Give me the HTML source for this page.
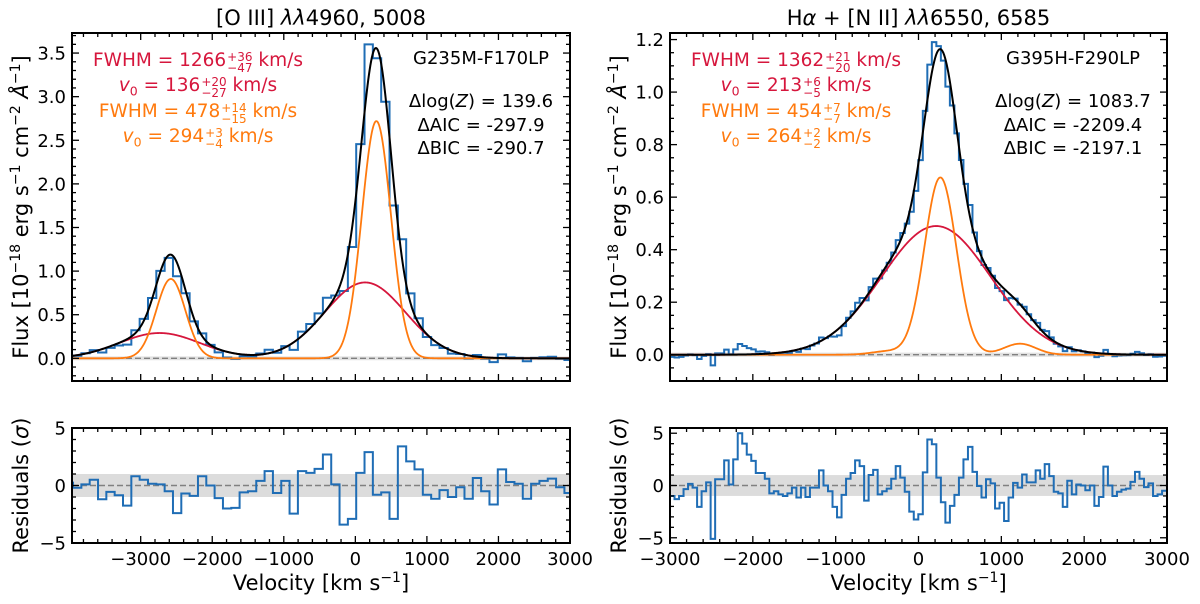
<!DOCTYPE html>
<html><head><meta charset="utf-8">
<style>
html,body{margin:0;padding:0;background:#fff;}
#wrap{position:relative;width:1200px;height:604px;overflow:hidden;font-family:"DejaVu Sans","Liberation Sans",sans-serif;}
svg{position:absolute;left:0;top:0;}
.ann{position:absolute;white-space:nowrap;transform:translateX(-50%);font-size:18.5px;line-height:20px;font-family:"DejaVu Sans","Liberation Sans",sans-serif;}
.ss{display:inline-block;vertical-align:-6px;font-size:12px;line-height:11px;text-align:left;margin-left:1px;}
.ss span{display:block;}
.red{color:#d6163c;} .org{color:#ff7a0e;} .blk{color:#000;}
</style></head>
<body>
<div id="wrap">
<svg id="fig" width="1200" height="604" viewBox="0 0 1200 604" xmlns="http://www.w3.org/2000/svg"></svg>

<div class="ann red" style="left:198px;top:51px">FWHM = 1266<span class="ss"><span>+36</span><span>−47</span></span> km/s</div>
<div class="ann red" style="left:198px;top:76px"><i>v</i><sub style="font-size:12.5px">0</sub> = 136<span class="ss"><span>+20</span><span>−27</span></span> km/s</div>
<div class="ann org" style="left:198px;top:102px">FWHM = 478<span class="ss"><span>+14</span><span>−15</span></span> km/s</div>
<div class="ann org" style="left:198px;top:127px"><i>v</i><sub style="font-size:12.5px">0</sub> = 294<span class="ss"><span>+3</span><span>−4</span></span> km/s</div>
<div class="ann blk" style="left:481px;top:49px;font-size:18px">G235M-F170LP</div>
<div class="ann blk" style="left:481px;top:92px;font-size:18px">Δlog(<i>Z</i>) = 139.6</div>
<div class="ann blk" style="left:481px;top:116px;font-size:18px">ΔAIC = -297.9</div>
<div class="ann blk" style="left:481px;top:139px;font-size:18px">ΔBIC = -290.7</div>

<div class="ann red" style="left:796px;top:51px">FWHM = 1362<span class="ss"><span>+21</span><span>−20</span></span> km/s</div>
<div class="ann red" style="left:796px;top:76px"><i>v</i><sub style="font-size:12.5px">0</sub> = 213<span class="ss"><span>+6</span><span>−5</span></span> km/s</div>
<div class="ann org" style="left:796px;top:102px">FWHM = 454<span class="ss"><span>+7</span><span>−7</span></span> km/s</div>
<div class="ann org" style="left:796px;top:127px"><i>v</i><sub style="font-size:12.5px">0</sub> = 264<span class="ss"><span>+2</span><span>−2</span></span> km/s</div>
<div class="ann blk" style="left:1073px;top:49px;font-size:18px">G395H-F290LP</div>
<div class="ann blk" style="left:1073px;top:92px;font-size:18px">Δlog(<i>Z</i>) = 1083.7</div>
<div class="ann blk" style="left:1073px;top:116px;font-size:18px">ΔAIC = -2209.4</div>
<div class="ann blk" style="left:1073px;top:139px;font-size:18px">ΔBIC = -2197.1</div>
</div>

<script>
// ---------- data: left panel [O III] ----------
const leftBroadAmp = [0.29, 0.87];
const leftBroadCen = [-2737, 136];
const leftBroadFwhm = [1330, 1330];
const leftNarrowAmp = [0.91, 2.72];
const leftNarrowCen = [-2579, 294];
const leftNarrowFwhm = [478, 478];
const leftBinStart = -4062;
const leftBinWidth = 116.4;
const leftResid = [0.25,-0.2,0.1,0.5,-1.2,-0.55,-0.85,-1.75,0.8,0.5,
 0.15,0.1,-0.5,-2.4,-0.7,-0.9,0.8,0,-1.1,-2.0,
 -1.95,-0.6,-0.5,0.4,1.25,-0.65,0.4,-2.45,1.25,1.1,
 1.45,2.7,0.1,-3.4,-2.9,1.1,2.9,-0.8,-0.6,-2.9,
 3.4,2.1,1.4,-0.8,-1.15,-0.4,-1.0,-0.15,-1.15,0.65,
 -0.5,-1.65,1.4,0.3,0.15,-1.15,0.15,0.4,0.6,-0.15,-0.65,-0.3];
const leftYTicks = [0.0,0.5,1.0,1.5,2.0,2.5,3.0,3.5];
const leftYTickLabels = ["0.0","0.5","1.0","1.5","2.0","2.5","3.0","3.5"];

// ---------- data: right panel Halpha + [N II] ----------
const rightBroadAmp = [0.49];
const rightBroadCen = [213];
const rightBroadFwhm = [1550];
const rightNarrowAmp = [0.013, 0.675, 0.042];
const rightNarrowCen = [-376, 264, 1224];
const rightNarrowFwhm = [454, 454, 454];
const rightBinStart = -3000;
const rightBinWidth = 54.5;
const rightResid = [-1.0,-1.3,-1.0,-0.35,0.15,-0.2,-2.05,-0.55,0.3,-5.1,
 0.6,0.6,2.4,0.1,2.5,5.0,4.0,2.95,2.35,1.2,
 1.2,0.65,-0.75,-0.55,-0.85,-1.0,-0.75,-0.2,-1.15,-0.2,
 -1.1,-0.2,-0.2,1.45,0,-0.55,-2.05,-3.05,-0.9,0.65,
 1.2,2.4,1.85,-1.45,1.0,1.5,-0.85,-0.55,-0.3,0.65,
 1.85,0.75,-0.6,-2.5,-3.25,-2.75,1.25,4.4,3.95,0.75,
 -1.6,-3.55,-1.95,-0.9,0.75,2.5,3.7,1.3,-0.05,-1.15,
 0.6,0.2,-2.2,-1.65,-3.4,-1.15,0.25,-0.2,1.05,0.3,
 0.3,1.45,0.65,2.05,0.9,-0.6,-0.75,-2.05,0.45,-0.85,
 0.1,0,-0.45,0,-1.95,-1.1,1.8,0,-1.0,-0.6,
 -0.4,-0.3,0.35,1.3,0.65,-0.15,0.2,-1.0,-0.85,-0.5];
const rightYTicks = [0.0,0.2,0.4,0.6,0.8,1.0,1.2];
const rightYTickLabels = ["0.0","0.2","0.4","0.6","0.8","1.0","1.2"];

const xTicks = [-3000,-2000,-1000,0,1000,2000,3000];
const xTickLabels = ["−3000","−2000","−1000","0","1000","2000","3000"];
const residTicks = [-5,0,5];
const residTickLabels = ["−5","0","5"];

// ---------- drawing ----------
const NS = "http://www.w3.org/2000/svg";
const svg = document.getElementById("fig");
const C_BLUE = "#1f6db5", C_RED = "#d6163c", C_ORG = "#ff7a0e";
const FONT = "DejaVu Sans, Liberation Sans, sans-serif";

function mk(tag, attrs, parent) {
  const e = document.createElementNS(NS, tag);
  for (const k in attrs) e.setAttribute(k, attrs[k]);
  (parent || svg).appendChild(e);
  return e;
}
function gauss(v, a, c, f) { return a * Math.exp(-4 * Math.LN2 * ((v - c) / f) ** 2); }
function sumG(v, amps, cens, fw) { let s = 0; for (let i = 0; i < amps.length; i++) s += gauss(v, amps[i], cens[i], fw[i]); return s; }

function panel(cfg) {
  const p = cfg.pre;
  const X = v => cfg.x0 + (v - cfg.xmin) / (cfg.xmax - cfg.xmin) * (cfg.x1 - cfg.x0);
  const Y = f => cfg.yb - (f - cfg.ymin) / (cfg.ymax - cfg.ymin) * (cfg.yb - cfg.yt);
  const RY = r => cfg.ryb - (r - cfg.rymin) / (cfg.rymax - cfg.rymin) * (cfg.ryb - cfg.ryt);

  const defs = mk("defs", {});
  const cp1 = mk("clipPath", {id: p + "clipMain"}, defs);
  mk("rect", {x: cfg.x0, y: cfg.yt, width: cfg.x1 - cfg.x0, height: cfg.yb - cfg.yt}, cp1);
  const cp2 = mk("clipPath", {id: p + "clipRes"}, defs);
  mk("rect", {x: cfg.x0, y: cfg.ryt, width: cfg.x1 - cfg.x0, height: cfg.ryb - cfg.ryt}, cp2);

  const gMain = mk("g", {"clip-path": "url(#" + p + "clipMain)"});
  
  
  const band = mk("rect", {x: cfg.x0, y: Y(cfg.noise), width: cfg.x1 - cfg.x0, height: Y(-cfg.noise) - Y(cfg.noise), fill: "#d9d9d9", opacity: 0.8}, gMain);
  
  
  const zl = mk("line", {x1: cfg.x0, x2: cfg.x1, y1: Y(0), y2: Y(0), stroke: "#808080", "stroke-width": 1.4, "stroke-dasharray": "6,3"}, gMain);
  
  

  const n = cfg.resid.length;
  let d = "";
  for (let i = 0; i < n; i++) {
    const lo = cfg.binStart + i * cfg.binWidth, hi = lo + cfg.binWidth, c = lo + cfg.binWidth / 2;
    const m = cfg.model(c);
    const f = m + cfg.resid[i] * (cfg.sig0 + cfg.sigk * m);
    d += (i === 0 ? "M" : "L") + X(lo).toFixed(2) + "," + Y(f).toFixed(2) + "L" + X(hi).toFixed(2) + "," + Y(f).toFixed(2);
  }
  const obs = mk("path", {d: d, fill: "none", stroke: C_BLUE, "stroke-width": 2}, gMain);
  
  

  const curve = (fn, color, name, w) => {
    let s = "";
    for (let v = cfg.xmin; v <= cfg.xmax; v += 10) s += (s ? "L" : "M") + X(v).toFixed(2) + "," + Y(fn(v)).toFixed(2);
    const e = mk("path", {d: s, fill: "none", stroke: color, "stroke-width": w}, gMain);
    
    
  };
  curve(cfg.broad, C_RED, p + "broad-component", 1.8);
  curve(cfg.narrow, C_ORG, p + "narrow-component", 1.8);
  curve(cfg.model, "#000", p + "total-model", 2);

  const gRes = mk("g", {"clip-path": "url(#" + p + "clipRes)"});
  
  
  const rb = mk("rect", {x: cfg.x0, y: RY(1), width: cfg.x1 - cfg.x0, height: RY(-1) - RY(1), fill: "#dcdcdc"}, gRes);
  
  
  const rz = mk("line", {x1: cfg.x0, x2: cfg.x1, y1: RY(0), y2: RY(0), stroke: "#808080", "stroke-width": 1.4, "stroke-dasharray": "6,3"}, gRes);
  
  
  let rd = "";
  for (let i = 0; i < n; i++) {
    const lo = cfg.binStart + i * cfg.binWidth, hi = lo + cfg.binWidth;
    rd += (i === 0 ? "M" : "L") + X(lo).toFixed(2) + "," + RY(cfg.resid[i]).toFixed(2) + "L" + X(hi).toFixed(2) + "," + RY(cfg.resid[i]).toFixed(2);
  }
  const rp = mk("path", {d: rd, fill: "none", stroke: C_BLUE, "stroke-width": 2}, gRes);
  
  

  [[cfg.yt, cfg.yb, "flux-axes-frame"], [cfg.ryt, cfg.ryb, "residual-axes-frame"]].forEach(a => {
    const fr = mk("rect", {x: cfg.x0, y: a[0], width: cfg.x1 - cfg.x0, height: a[1] - a[0], fill: "none", stroke: "#000", "stroke-width": 2});
    
    
  });

  const tg = mk("g", {stroke: "#000", "stroke-width": 1.3});
  
  
  const xt = (v, len, top, bot) => {
    const x = X(v);
    mk("line", {x1: x, x2: x, y1: top, y2: top + len}, tg);
    mk("line", {x1: x, x2: x, y1: bot, y2: bot - len}, tg);
  };
  for (let v = Math.ceil(cfg.xmin / 200) * 200; v <= cfg.xmax; v += 200) {
    const major = v % 1000 === 0, len = major ? 7 : 4;
    xt(v, len, cfg.yt, cfg.yb); xt(v, len, cfg.ryt, cfg.ryb);
  }
  const yt = (y, len) => {
    mk("line", {x1: cfg.x0, x2: cfg.x0 + len, y1: y, y2: y}, tg);
    mk("line", {x1: cfg.x1, x2: cfg.x1 - len, y1: y, y2: y}, tg);
  };
  for (let k = Math.ceil(cfg.ymin / cfg.yminor - 1e-6); k * cfg.yminor <= cfg.ymax; k++) {
    const v = k * cfg.yminor;
    const major = Math.abs(v / cfg.ymajor - Math.round(v / cfg.ymajor)) < 1e-6;
    yt(Y(v), major ? 7 : 4);
  }
  for (let r = Math.ceil(cfg.rymin); r <= cfg.rymax; r++) yt(RY(r), r % 5 === 0 ? 7 : 4);

  const lg = mk("g", {"font-size": 18, "font-family": FONT, fill: "#000"});
  
  
  cfg.yTicks.forEach((v, i) => {
    const t = mk("text", {x: cfg.x0 - 6, y: Y(v) + 6.5, "text-anchor": "end"}, lg);
    t.textContent = cfg.yTickLabels[i];
  });
  residTicks.forEach((v, i) => {
    const t = mk("text", {x: cfg.x0 - 6, y: RY(v) + 6.5, "text-anchor": "end"}, lg);
    t.textContent = residTickLabels[i];
  });
  xTicks.forEach((v, i) => {
    const t = mk("text", {x: X(v), y: cfg.ryb + 22, "text-anchor": "middle"}, lg);
    t.textContent = xTickLabels[i];
  });

  const cx = (cfg.x0 + cfg.x1) / 2;
  const title = mk("text", {x: cx, y: 25, "text-anchor": "middle", "font-size": 21, "font-family": FONT});
  title.innerHTML = cfg.title;
  
  
  const xl = mk("text", {x: cx, y: 590, "text-anchor": "middle", "font-size": 21, "font-family": FONT});
  xl.innerHTML = 'Velocity [km s<tspan font-size="14" dy="-8">−1</tspan><tspan dy="8">]</tspan>';
  
  
  const yl = mk("text", {x: 0, y: 0, "text-anchor": "middle", "font-size": 21, "font-family": FONT, transform: "translate(" + (cfg.x0 - 44) + "," + ((cfg.yt + cfg.yb) / 2) + ") rotate(-90)"});
  yl.innerHTML = 'Flux [10<tspan font-size="14" dy="-8">−18</tspan><tspan dy="8"> erg s</tspan><tspan font-size="14" dy="-8">−1</tspan><tspan dy="8"> cm</tspan><tspan font-size="14" dy="-8">−2</tspan><tspan dy="8"> </tspan><tspan font-style="italic">Å</tspan><tspan font-size="14" dy="-8">−1</tspan><tspan dy="8">]</tspan>';
  
  
  const rl = mk("text", {x: 0, y: 0, "text-anchor": "middle", "font-size": 21, "font-family": FONT, transform: "translate(" + (cfg.x0 - 44) + "," + ((cfg.ryt + cfg.ryb) / 2) + ") rotate(-90)"});
  rl.innerHTML = 'Residuals (<tspan font-style="italic">σ</tspan>)';
  
  
}

panel({
  pre: "left-", x0: 72, x1: 570, yt: 33, yb: 381, ryt: 428, ryb: 543,
  xmin: -3960, xmax: 3000, ymin: -0.26, ymax: 3.73, rymin: -5, rymax: 5,
  ymajor: 0.5, yminor: 0.1, noise: 0.022, sig0: 0.03, sigk: 0.03,
  binStart: leftBinStart, binWidth: leftBinWidth, resid: leftResid,
  yTicks: leftYTicks, yTickLabels: leftYTickLabels,
  broad: v => sumG(v, leftBroadAmp, leftBroadCen, leftBroadFwhm),
  narrow: v => sumG(v, leftNarrowAmp, leftNarrowCen, leftNarrowFwhm),
  model: v => sumG(v, leftBroadAmp, leftBroadCen, leftBroadFwhm) + sumG(v, leftNarrowAmp, leftNarrowCen, leftNarrowFwhm),
  title: '[O III] <tspan font-style="italic">λλ</tspan>4960, 5008'
});
panel({
  pre: "right-", x0: 670, x1: 1167, yt: 33, yb: 381, ryt: 428, ryb: 543,
  xmin: -3000, xmax: 3000, ymin: -0.1, ymax: 1.225, rymin: -5.5, rymax: 5.5,
  ymajor: 0.2, yminor: 0.05, noise: 0.008, sig0: 0.008, sigk: 0.01,
  binStart: rightBinStart, binWidth: rightBinWidth, resid: rightResid,
  yTicks: rightYTicks, yTickLabels: rightYTickLabels,
  broad: v => sumG(v, rightBroadAmp, rightBroadCen, rightBroadFwhm),
  narrow: v => sumG(v, rightNarrowAmp, rightNarrowCen, rightNarrowFwhm),
  model: v => sumG(v, rightBroadAmp, rightBroadCen, rightBroadFwhm) + sumG(v, rightNarrowAmp, rightNarrowCen, rightNarrowFwhm),
  title: 'H<tspan font-style="italic">α</tspan> + [N II] <tspan font-style="italic">λλ</tspan>6550, 6585'
});
</script>
</body></html>
